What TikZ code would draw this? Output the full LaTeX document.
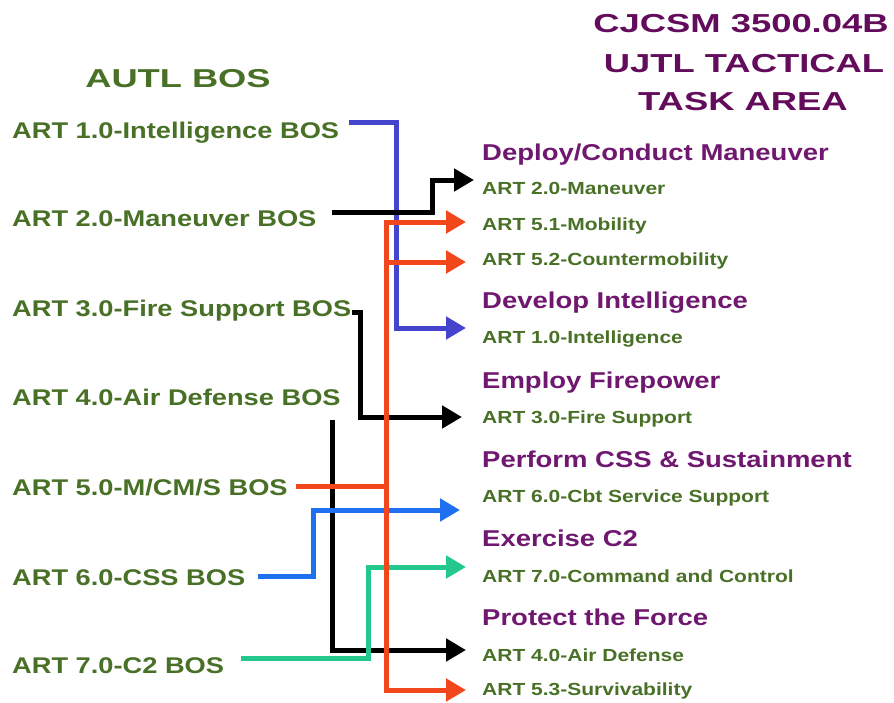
\documentclass[tikz,border=0pt]{standalone}
\usepackage{fontspec}
\usepackage{xcolor}
\usepackage{tikz}
\usetikzlibrary{arrows.meta}
\newfontfamily\widesans[FakeStretch=1.2]{Liberation Sans}
\newfontfamily\widersans[FakeStretch=1.4]{Liberation Sans}
\definecolor{bosgreen}{RGB}{72,112,38}
\definecolor{taskpurple}{RGB}{112,24,112}
\definecolor{titlepurple}{RGB}{100,12,92}
\definecolor{intblue}{RGB}{68,68,204}
\definecolor{cssblue}{RGB}{30,112,240}
\definecolor{mcmred}{RGB}{242,70,28}
\definecolor{ctwoteal}{RGB}{34,200,140}

\begin{document}
\begin{tikzpicture}[x=1pt, y=-1pt,
            every node/.append style = {inner sep = 0pt, anchor = base west},
            head/.style = {anchor = base, text = titlepurple, font = \widersans\bfseries\fontsize{26}{30}\selectfont},
            bos/.style = {text = bosgreen, font = \widesans\bfseries\fontsize{22.7}{26}\selectfont},
            task/.style = {text = taskpurple, font = \widesans\bfseries\fontsize{22.9}{26}\selectfont},
            item/.style = {text = bosgreen, font = \widesans\bfseries\fontsize{17.5}{20}\selectfont},
            wire/.style = {line width = 5pt},
            feed/.style = {wire, -{Triangle[length=20pt, width=22pt]}}]
            \useasboundingbox (0,0) rectangle (894,702);
            \node[head] (title1) at (741,32) {CJCSM 3500.04B};
            \node[head] (title2) at (744,72) {UJTL TACTICAL};
            \node[head] (title3) at (743,110) {TASK AREA};
            \node[head, text = bosgreen, font = \widersans\bfseries\fontsize{25.9}{30}\selectfont] (autl) at (178,87) {AUTL BOS};
            \node[bos] (bos1) at (12,138) {ART 1.0-Intelligence BOS};
            \node[bos] (bos2) at (12,226) {ART 2.0-Maneuver BOS};
            \node[bos] (bos3) at (12,316) {ART 3.0-Fire Support BOS};
            \node[bos] (bos4) at (12,405) {ART 4.0-Air Defense BOS};
            \node[bos] (bos5) at (12,495) {ART 5.0-M/CM/S BOS};
            \node[bos] (bos6) at (12,585) {ART 6.0-CSS BOS};
            \node[bos] (bos7) at (12,673) {ART 7.0-C2 BOS};
            \node[task] (deploy) at (482,160) {Deploy/Conduct Maneuver};
            \node[item] (tman) at (482,194) {ART 2.0-Maneuver};
            \node[item] (tmob) at (482,230) {ART 5.1-Mobility};
            \node[item] (tcmob) at (482,265) {ART 5.2-Countermobility};
            \node[task] (develop) at (482,308) {Develop Intelligence};
            \node[item] (tint) at (482,343) {ART 1.0-Intelligence};
            \node[task] (employ) at (482,388) {Employ Firepower};
            \node[item] (tfire) at (482,423) {ART 3.0-Fire Support};
            \node[task] (perform) at (482,467) {Perform CSS \& Sustainment};
            \node[item] (tcss) at (482,502) {ART 6.0-Cbt Service Support};
            \node[task] (exercise) at (482,546) {Exercise C2};
            \node[item] (tcc) at (482,582) {ART 7.0-Command and Control};
            \node[task] (protect) at (482,625) {Protect the Force};
            \node[item] (tad) at (482,661) {ART 4.0-Air Defense};
            \node[item] (tsurv) at (482,695) {ART 5.3-Survivability};
            % arrow tips in front of the task items
            \coordinate (tipman) at ([xshift=-8pt, yshift=14pt]tman.base west);
            \coordinate (tipmob) at ([xshift=-16pt, yshift=8pt]tmob.base west);
            \coordinate (tipcmob) at ([xshift=-16pt, yshift=3pt]tcmob.base west);
            \coordinate (tipint) at ([xshift=-16pt, yshift=15pt]tint.base west);
            \coordinate (tipfire) at ([xshift=-20pt, yshift=6pt]tfire.base west);
            \coordinate (tipcss) at ([xshift=-22pt, yshift=-8pt]tcss.base west);
            \coordinate (tipcc) at ([xshift=-16pt, yshift=15pt]tcc.base west);
            \coordinate (tipad) at ([xshift=-16pt, yshift=11pt]tad.base west);
            \coordinate (tipsurv) at ([xshift=-16pt, yshift=5pt]tsurv.base west);
            % vertical lanes
            \coordinate (laneint) at (396,0);
            \coordinate (laneman) at (432,0);
            \coordinate (lanefire) at (360,0);
            \coordinate (lanead) at (332,0);
            \coordinate (lanecss) at (313,0);
            \coordinate (lanecc) at (368,0);
            \coordinate (trunk) at (386,0);
            \draw[feed, intblue] ([xshift=10pt, yshift=16pt]bos1.base east) -| (laneint |- tipint) -- (tipint);
            \draw[feed, black] ([xshift=15pt, yshift=14pt]bos2.base east) -| (laneman |- tipman) -- (tipman);
            \draw[feed, black] ([xshift=1pt, yshift=4pt]bos3.base east) -| (lanefire |- tipfire) -- (tipfire);
            \coordinate (in4) at ([yshift=-15pt]bos4.base east);
            \draw[feed, black] (lanead |- in4) |- (tipad);
            \draw[feed, cssblue] ([xshift=13pt, yshift=9pt]bos6.base east) -| (lanecss |- tipcss) -- (tipcss);
            \draw[feed, ctwoteal] ([xshift=17pt, yshift=15pt]bos7.base east) -| (lanecc |- tipcc) -- (tipcc);
            \coordinate (in5) at ([xshift=8pt, yshift=9pt]bos5.base east);
            \draw[wire, mcmred] (in5) -- (trunk |- in5);
            \draw[wire, mcmred, {Triangle[length=20pt, width=22pt]}-{Triangle[length=20pt, width=22pt]}] (tipmob) -| (trunk |- tipsurv) -- (tipsurv);
            \draw[feed, mcmred] (trunk |- tipcmob) -- (tipcmob);
        \end{tikzpicture}
\end{document}
